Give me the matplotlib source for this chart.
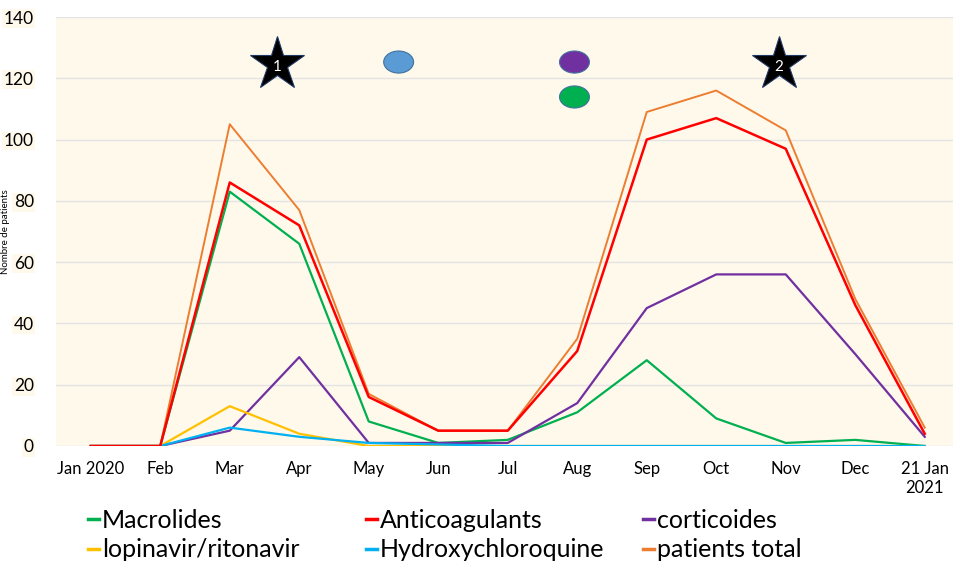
import numpy as np
import matplotlib
matplotlib.use("Agg")
import matplotlib.pyplot as plt
from matplotlib.patches import Ellipse
from matplotlib.lines import Line2D

months = ["Jan 2020", "Feb", "Mar", "Apr", "May", "Jun", "Jul", "Aug",
          "Sep", "Oct", "Nov", "Dec", "21 Jan\n2021"]

macrolides = [0, 0, 83, 66, 8, 1, 2, 11, 28, 9, 1, 2, 0]
anticoag = [0, 0, 86, 72, 16, 5, 5, 31, 100, 107, 97, 46, 4]
corticoides = [0, 0, 5, 29, 1, 1, 1, 14, 45, 56, 56, 30, 3]
lopinavir = [0, 0, 13, 4, 0, 0, 0, 0, 0, 0, 0, 0, 0]
hcq = [0, 0, 6, 3, 1, 0.5, 0, 0, 0, 0, 0, 0, 0]
total = [0, 0, 105, 77, 17, 5, 5, 35, 109, 116, 103, 48, 6]

# annotation symbols (x in month index, y in patients)
star_x = [2.68, 9.9]
star_y = [124.8, 124.8]
star_txt = ["1", "2"]
dot_x = [4.43, 6.96, 6.96]
dot_y = [125.3, 125.3, 113.9]
dot_col = ["#5B9BD5", "#7030A0", "#00B050"]

plt.rcParams['font.family'] = ['Lato', 'DejaVu Sans']

fig = plt.figure(figsize=(9.54, 5.63), dpi=100)
ax = fig.add_axes([56/954, 117/563, 1 - 56/954, 429/563])
ax.set_facecolor("#FFF9EC")
for s in ax.spines.values():
    s.set_visible(False)

x = np.arange(len(months))
ax.plot(x, total, color="#ED7D31", lw=1.4, zorder=3)
ax.plot(x, anticoag, color="#FF0000", lw=1.8, zorder=4)
ax.plot(x, macrolides, color="#00B050", lw=1.6, zorder=3)
ax.plot(x, corticoides, color="#7030A0", lw=1.6, zorder=3)
ax.plot(x, lopinavir, color="#FFC000", lw=1.6, zorder=3)
ax.plot(x, hcq, color="#00B0F0", lw=1.6, zorder=3)

for sx, sy, t in zip(star_x, star_y, star_txt):
    ax.plot(sx, sy, marker="*", ms=41, mfc="black", mec="#1F3864", mew=0.8, zorder=5)
    ax.text(sx, sy - 1, t, color="white", fontsize=11, ha="center", va="center", zorder=6)
for dx, dy, c in zip(dot_x, dot_y, dot_col):
    ax.add_patch(Ellipse((dx, dy), 0.43, 7.2, facecolor=c, edgecolor="#41719C", lw=0.8, zorder=5))

ax.set_xlim(-0.5, (954 - 56) / 69.5 - 0.5)
ax.set_ylim(0, 140)
ax.set_yticks(range(0, 141, 20))
ax.set_xticks(x)
ax.set_xticklabels(months, fontsize=12)
ax.tick_params(axis="x", length=0, pad=11)
ax.tick_params(axis="y", length=0, pad=16, labelsize=12.5)
for lab in ax.get_yticklabels():
    lab.set_bbox(dict(facecolor="#FFF9EC", edgecolor="none", pad=1))
ax.grid(axis="y", color="#E4E4E4", lw=1)
ax.set_axisbelow(True)

fig.text(6/954, 1 - 232/563, "Nombre de patients", rotation=90, fontsize=7,
         ha="center", va="center")

groups = [
    (88, [("Macrolides", "#00B050"), ("lopinavir/ritonavir", "#FFC000")]),
    (366, [("Anticoagulants", "#FF0000"), ("Hydroxychloroquine", "#00B0F0")]),
    (643, [("corticoides", "#7030A0"), ("patients total", "#ED7D31")]),
]
for gx, items in groups:
    handles = [Line2D([0], [0], color=c, lw=2.5) for _, c in items]
    labels = [n for n, _ in items]
    fig.legend(handles, labels, loc="upper left", bbox_to_anchor=(gx/954, 1 - 509/563),
               frameon=False, fontsize=18, handlelength=0.45, handletextpad=0.1,
               borderpad=0, borderaxespad=0, labelspacing=0.25)

fig.savefig("out.png", dpi=100)
